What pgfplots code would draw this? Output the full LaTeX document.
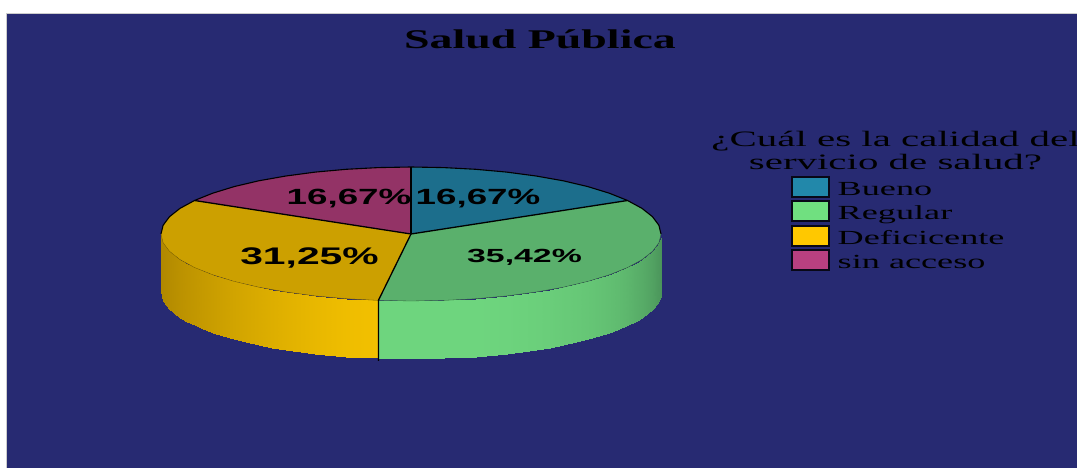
\documentclass[border=0pt]{standalone}
\usepackage{pgfplots}
\pgfplotsset{compat=1.18}
\usepackage{fontspec}
\setmainfont{Liberation Serif}
\newfontfamily\lsans{Liberation Sans}
\definecolor{bgc}{RGB}{39,42,114}
\definecolor{topB}{RGB}{28,110,140}
\definecolor{topG}{RGB}{90,176,108}
\definecolor{topY}{RGB}{204,160,0}
\definecolor{topM}{RGB}{147,51,102}
\definecolor{legB}{RGB}{34,136,170}
\definecolor{legG}{RGB}{112,224,128}
\definecolor{legY}{RGB}{255,200,0}
\definecolor{legM}{RGB}{184,64,128}
\pgfplotsset{
 colormap={sideG}{rgb255=(72,144,88) rgb255=(110,213,126)},
 colormap={sideY}{rgb255=(176,136,0) rgb255=(242,192,0)}}
\newcommand{\txt}[3]{\fontsize{#1}{#1}\selectfont\scalebox{#2}[1]{#3}}
\begin{document}
\begin{tikzpicture}
\clip (0,0) rectangle (1077pt,468pt);
\begin{axis}[
 at={(0,0)},anchor=south west,scale only axis,
 width=1077pt,height=468pt,
 xmin=0,xmax=1077,ymin=0,ymax=468,
 hide axis,clip=false,
 point meta min=0,point meta max=1]
% background
\addplot[fill=bgc,draw=black!20,line width=0.5pt] coordinates {(6.5,-2) (6.5,454.5) (1080,454.5) (1080,-2)} --cycle;
% green side
\addplot[surf,shader=interp,colormap name=sideG,point meta=explicit,mesh/rows=2] table[meta=c] {
x y c
661.0 234.0 0.00
660.5 229.6 0.06
658.9 225.3 0.12
656.2 220.9 0.18
652.5 216.7 0.25
647.7 212.5 0.32
642.0 208.4 0.40
635.2 204.4 0.47
627.5 200.5 0.55
618.9 196.8 0.62
609.3 193.2 0.68
599.0 189.8 0.73
587.8 186.6 0.78
575.8 183.6 0.82
563.2 180.8 0.85
549.9 178.3 0.89
536.0 176.0 0.92
506.7 172.1 0.97
475.7 169.3 1.00
443.6 167.6 1.00
411.0 167.0 1.00
378.4 167.6 1.00
661.0 176.0 0.00
660.5 171.6 0.06
658.9 167.3 0.12
656.2 162.9 0.18
652.5 158.7 0.25
647.7 154.5 0.32
642.0 150.4 0.40
635.2 146.4 0.47
627.5 142.5 0.55
618.9 138.8 0.62
609.3 135.2 0.68
599.0 131.8 0.73
587.8 128.6 0.78
575.8 125.6 0.82
563.2 122.8 0.85
549.9 120.3 0.89
536.0 118.0 0.92
506.7 114.1 0.97
475.7 111.3 1.00
443.6 109.6 1.00
411.0 109.0 1.00
378.4 109.6 1.00
};
% yellow side
\addplot[surf,shader=interp,colormap name=sideY,point meta=explicit,mesh/rows=2] table[meta=c] {
x y c
378.4 167.6 1.00
346.3 169.3 0.95
315.3 172.1 0.85
286.0 176.0 0.74
272.1 178.3 0.68
258.8 180.8 0.62
246.2 183.6 0.56
234.2 186.6 0.50
223.0 189.8 0.44
212.7 193.2 0.38
203.1 196.8 0.32
194.5 200.5 0.27
186.8 204.4 0.22
180.0 208.4 0.17
174.3 212.5 0.12
169.5 216.7 0.08
165.8 220.9 0.05
163.1 225.3 0.02
161.5 229.6 0.01
161.0 234.0 0.00
378.4 109.6 1.00
346.3 111.3 0.95
315.3 114.1 0.85
286.0 118.0 0.74
272.1 120.3 0.68
258.8 122.8 0.62
246.2 125.6 0.56
234.2 128.6 0.50
223.0 131.8 0.44
212.7 135.2 0.38
203.1 138.8 0.32
194.5 142.5 0.27
186.8 146.4 0.22
180.0 150.4 0.17
174.3 154.5 0.12
169.5 158.7 0.08
165.8 162.9 0.05
163.1 167.3 0.02
161.5 171.6 0.01
161.0 176.0 0.00
};
% top faces
\addplot[fill=topB,draw=none] coordinates {(411,234) (411,301) (443.6,300.4) (475.7,298.7) (506.7,295.9) (536,292) (563.2,287.2) (587.8,281.4) (609.3,274.8) (627.5,267.5)} --cycle;
\addplot[fill=topG,draw=none] coordinates {(411,234) (627.5,267.5) (642,259.6) (652.5,251.3) (658.9,242.7) (661,234) (658.9,225.3) (652.5,216.7) (642,208.4) (627.5,200.5) (609.3,193.2) (587.8,186.6) (563.2,180.8) (536,176) (506.7,172.1) (475.7,169.3) (443.6,167.6) (411,167) (378.4,167.6)} --cycle;
\addplot[fill=topY,draw=none] coordinates {(411,234) (378.4,167.6) (346.3,169.3) (315.3,172.1) (286,176) (258.8,180.8) (234.2,186.6) (212.7,193.2) (194.5,200.5) (180,208.4) (169.5,216.7) (163.1,225.3) (161,234) (163.1,242.7) (169.5,251.3) (180,259.6) (194.5,267.5)} --cycle;
\addplot[fill=topM,draw=none] coordinates {(411,234) (194.5,267.5) (212.7,274.8) (234.2,281.4) (258.8,287.2) (286,292) (315.3,295.9) (346.3,298.7) (378.4,300.4) (411,301)} --cycle;
% front rim (thin)
\addplot[draw=black!45!topG,line width=0.3pt] coordinates {(661,234) (658.9,225.3) (652.5,216.7) (642,208.4) (627.5,200.5) (609.3,193.2) (587.8,186.6) (563.2,180.8) (536,176) (506.7,172.1) (475.7,169.3) (443.6,167.6) (411,167) (378.4,167.6)};
\addplot[draw=black!45!topY,line width=0.3pt] coordinates {(378.4,167.6) (346.3,169.3) (315.3,172.1) (286,176) (258.8,180.8) (234.2,186.6) (212.7,193.2) (194.5,200.5) (180,208.4) (169.5,216.7) (163.1,225.3) (161,234)};
% back rim
\addplot[black,line width=1.1pt] coordinates {(161,234) (163.1,242.7) (169.5,251.3) (180,259.6) (194.5,267.5) (212.7,274.8) (234.2,281.4) (258.8,287.2) (286,292) (315.3,295.9) (346.3,298.7) (378.4,300.4) (411,301) (443.6,300.4) (475.7,298.7) (506.7,295.9) (536,292) (563.2,287.2) (587.8,281.4) (609.3,274.8) (627.5,267.5) (642,259.6) (652.5,251.3) (658.9,242.7) (661,234)};
% spokes and seam
\addplot[black,line width=1.3pt] coordinates {(411,301) (411,234)};
\addplot[black,line width=1.3pt] coordinates {(627.5,267.5) (411,234)};
\addplot[black,line width=1.3pt] coordinates {(194.5,267.5) (411,234)};
\addplot[black,line width=1.3pt] coordinates {(411,234) (378.4,167.6) (378.4,107)};
% legend keys
\addplot[fill=legB,draw=black!80!bgc,line width=1.1pt] coordinates {(792,291) (829,291) (829,271) (792,271)} --cycle;
\addplot[fill=legG,draw=black!80!bgc,line width=1.1pt] coordinates {(792,267) (829,267) (829,247) (792,247)} --cycle;
\addplot[fill=legY,draw=black!80!bgc,line width=1.1pt] coordinates {(792,242) (829,242) (829,222) (792,222)} --cycle;
\addplot[fill=legM,draw=black!80!bgc,line width=1.1pt] coordinates {(792,218) (829,218) (829,198) (792,198)} --cycle;
% text
\node[anchor=base,inner sep=0pt] at (axis cs:540,419) {\txt{27}{1.7}{\bfseries Salud Pública}};
\node[anchor=base,inner sep=0pt] at (axis cs:895.5,321) {\txt{22}{1.86}{¿Cuál es la calidad del}};
\node[anchor=base,inner sep=0pt] at (axis cs:895.5,298) {\txt{22}{1.86}{servicio de salud?}};
\node[anchor=base west,inner sep=0pt] at (axis cs:837.5,272) {\txt{20}{1.81}{Bueno}};
\node[anchor=base west,inner sep=0pt] at (axis cs:837.5,248) {\txt{20}{1.81}{Regular}};
\node[anchor=base west,inner sep=0pt] at (axis cs:837.5,223.5) {\txt{20}{1.81}{Deficicente}};
\node[anchor=base west,inner sep=0pt] at (axis cs:837.5,199) {\txt{20}{1.81}{sin acceso}};
\node[anchor=base,inner sep=0pt] at (axis cs:349,263.5) {\lsans\bfseries\txt{22}{1.67}{16,67\%}};
\node[anchor=base,inner sep=0pt] at (axis cs:478,263.5) {\lsans\bfseries\txt{22}{1.67}{16,67\%}};
\node[anchor=base,inner sep=0pt] at (axis cs:309.5,203) {\lsans\bfseries\txt{24}{1.7}{31,25\%}};
\node[anchor=base,inner sep=0pt] at (axis cs:524.5,205.5) {\lsans\bfseries\txt{19}{1.78}{35,42\%}};
\end{axis}
\end{tikzpicture}
\end{document}
